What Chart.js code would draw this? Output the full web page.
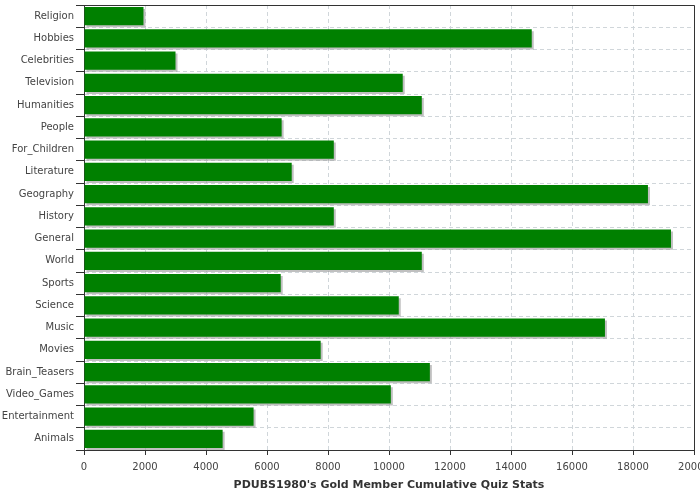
<!DOCTYPE html>
<html>
<head>
<meta charset="utf-8">
<script src="https://cdn.jsdelivr.net/npm/chart.js@4"></script>
<style>
    html, body { margin: 0; padding: 0; background: #fff; }
    #wrap { width: 700px; height: 500px; }
</style>
</head>
<body>
<div id="wrap"><canvas id="quiz-chart"></canvas></div>
<script>
// categories top to bottom
const categories = ['Religion', 'Hobbies', 'Celebrities', 'Television', 'Humanities', 'People',
    'For_Children', 'Literature', 'Geography', 'History', 'General', 'World', 'Sports',
    'Science', 'Music', 'Movies', 'Brain_Teasers', 'Video_Games', 'Entertainment', 'Animals'];
const quizPoints = [1950, 14680, 3000, 10450, 11075, 6480, 8190, 6810, 18490, 8190,
    19245, 11075, 6450, 10320, 17080, 7760, 11340, 10060, 5560, 4545];
const xTicks = [0, 2000, 4000, 6000, 8000, 10000, 12000, 14000, 16000, 18000, 20000];
const chartTitle = "PDUBS1980's Gold Member Cumulative Quiz Stats";

const FONT = 'DejaVu Sans';

// drop shadow under the bars, like the old java charts
const barShadow = {
    id: 'barShadow',
    beforeDatasetDraw(chart) {
        const ctx = chart.ctx;
        ctx.save();
        ctx.shadowColor = 'rgba(150,150,150,0.6)';
        ctx.shadowOffsetX = 2;
        ctx.shadowOffsetY = 2;
        ctx.shadowBlur = 0;
    },
    afterDatasetDraw(chart) {
        chart.ctx.restore();
    }
};

// top and right edges of the plot frame
const plotFrame = {
    id: 'plotFrame',
    afterDraw(chart) {
        const { ctx, chartArea: a } = chart;
        ctx.save();
        ctx.strokeStyle = '#333';
        ctx.lineWidth = 1;
        ctx.beginPath();
        ctx.moveTo(a.left, a.top + 0.5);
        ctx.lineTo(a.right + 0.5, a.top + 0.5);
        ctx.lineTo(a.right + 0.5, a.bottom);
        ctx.stroke();
        ctx.restore();
    }
};

new Chart(document.getElementById('quiz-chart'), {
    type: 'bar',
    data: {
        labels: categories,
        datasets: [{
            data: quizPoints,
            backgroundColor: '#008000',
            borderWidth: 0,
            barPercentage: 0.82,
            categoryPercentage: 1
        }]
    },
    options: {
        indexAxis: 'y',
        responsive: true,
        maintainAspectRatio: false,
        animation: false,
        layout: { padding: { top: 5, right: 6, left: 0, bottom: 0 } },
        plugins: {
            legend: { display: false },
            tooltip: { enabled: false }
        },
        scales: {
            x: {
                min: 0,
                max: 20000,
                afterBuildTicks: (s) => { s.ticks = xTicks.map(v => ({ value: v })); },
                afterFit: (s) => { s.height = 50; s.paddingLeft = 0; s.paddingRight = 0; },
                ticks: {
                    font: { family: FONT, size: 10 },
                    color: '#444',
                    padding: 6,
                    maxRotation: 0,
                    callback: (v) => String(v)
                },
                grid: {
                    color: '#d0d6da',
                    tickColor: '#333',
                    tickBorderDash: [],
                    tickLength: 5
                },
                border: { color: '#333', width: 1, dash: [4, 3] },
                title: {
                    display: true,
                    text: chartTitle,
                    font: { family: FONT, size: 11, weight: 'bold' },
                    color: '#333',
                    padding: { top: 4, bottom: 8 }
                }
            },
            y: {
                afterFit: (s) => { s.width = 84; s.paddingTop = 0; s.paddingBottom = 0; },
                ticks: {
                    font: { family: FONT, size: 10 },
                    color: '#444',
                    padding: 2
                },
                grid: {
                    offset: true,
                    color: '#d0d6da',
                    tickColor: '#333',
                    tickBorderDash: [],
                    tickLength: 8
                },
                border: { color: '#333', width: 1, dash: [4, 3] }
            }
        }
    },
    plugins: [barShadow, plotFrame]
});
</script>
</body>
</html>
